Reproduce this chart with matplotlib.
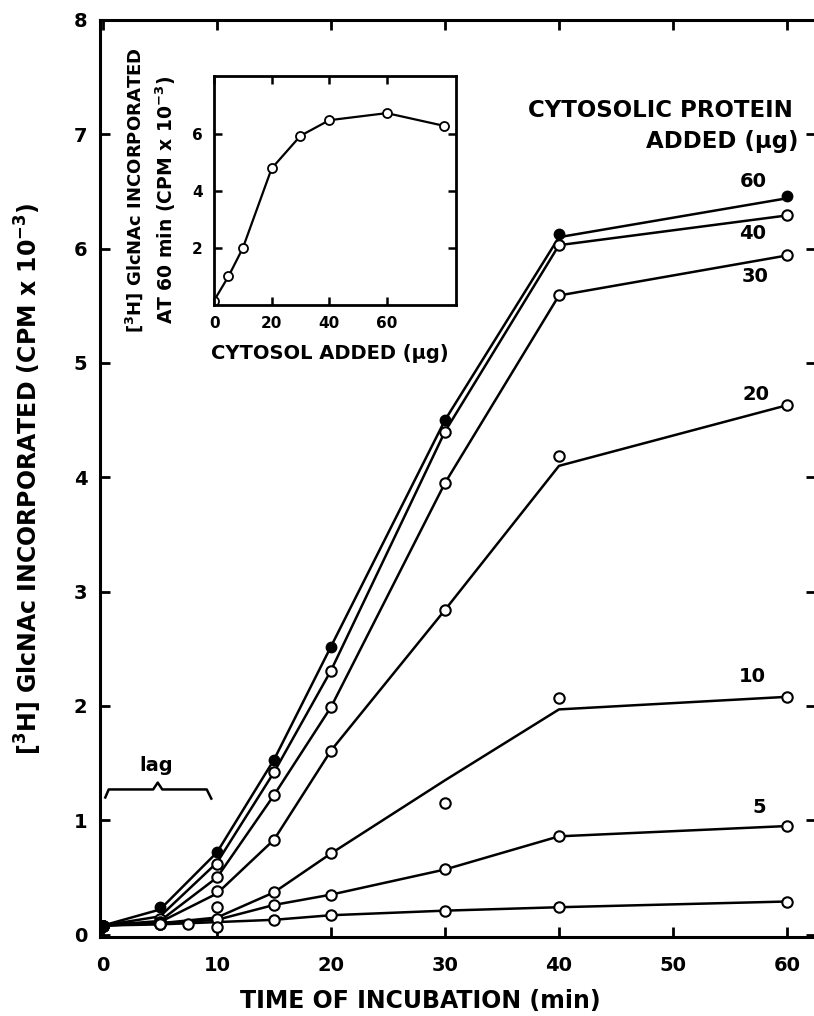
import matplotlib.pyplot as plt
import numpy as np

# ---------------- fonts / style ----------------
plt.rcParams['font.family'] = ['DejaVu Sans']
plt.rcParams['font.weight'] = 'bold'
plt.rcParams['axes.labelweight'] = 'bold'
plt.rcParams['mathtext.default'] = 'bf'

# ---------------- data ----------------
time_min = [0, 5, 10, 15, 20, 30, 40, 60]
time_0ug = [0, 5, 7.5, 10, 15, 20, 30, 40, 60]

# measured points, CPM x 10^-3
cpm_60ug = [0.08, 0.24, 0.72, 1.53, 2.52, 4.50, 6.13, 6.46]
cpm_40ug = [0.08, 0.14, 0.62, 1.42, 2.31, 4.40, 6.03, 6.29]
cpm_30ug = [0.08, 0.11, 0.50, 1.22, 1.99, 3.95, 5.59, 5.94]
cpm_20ug = [0.08, 0.10, 0.38, 0.83, 1.61, 2.84, 4.19, 4.63]
cpm_10ug = [0.08, 0.09, 0.24, 0.37, 0.71, 1.15, 2.07, 2.08]
cpm_5ug = [0.08, 0.09, 0.14, 0.26, 0.35, 0.57, 0.86, 0.95]
cpm_0ug = [0.08, 0.09, 0.09, 0.07, 0.13, 0.17, 0.21, 0.24, 0.29]

# hand drawn curves (value of the drawn line at each time)
line_60ug = [0.08, 0.22, 0.72, 1.53, 2.52, 4.50, 6.10, 6.44]
line_40ug = [0.08, 0.16, 0.63, 1.42, 2.31, 4.40, 6.03, 6.29]
line_30ug = [0.08, 0.12, 0.50, 1.22, 1.99, 3.95, 5.59, 5.94]
line_20ug = [0.08, 0.11, 0.36, 0.83, 1.61, 2.84, 4.10, 4.63]
line_10ug = [0.08, 0.10, 0.15, 0.37, 0.71, 1.35, 1.97, 2.08]
line_5ug = [0.08, 0.10, 0.13, 0.26, 0.35, 0.57, 0.86, 0.95]
line_0ug = [0.08, 0.09, 0.11, 0.13, 0.17, 0.21, 0.24, 0.29]

series_labels = ["60", "40", "30", "20", "10", "5"]

# inset: incorporation at 60 min vs cytosol added
inset_cytosol_ug = [0, 5, 10, 20, 30, 40, 60, 80]
inset_cpm = [0.15, 1.0, 2.0, 4.8, 5.95, 6.5, 6.75, 6.3]

# ---------------- figure ----------------
fig = plt.figure(figsize=(8.14, 10.16), dpi=100)
# right edge of the frame sits just outside the picture (cropped scan)
ax = fig.add_axes([0.1229, 0.0778, 0.8796, 0.9026])

open_kw = dict(marker="o", markersize=7.5, markerfacecolor="white",
               markeredgecolor="black", markeredgewidth=1.5, linestyle="none", zorder=4)

lines = [line_60ug, line_40ug, line_30ug, line_20ug, line_10ug, line_5ug]
points = [cpm_60ug, cpm_40ug, cpm_30ug, cpm_20ug, cpm_10ug, cpm_5ug]
for i, (ln, pt) in enumerate(zip(lines, points)):
    ax.plot(time_min, ln, color="black", linewidth=1.8, zorder=2)
    if i == 0:
        ax.plot(time_min, pt, marker="o", markersize=7.5, color="black",
                linestyle="none", zorder=5)
    else:
        ax.plot(time_min, pt, **open_kw)
ax.plot(time_min, line_0ug, color="black", linewidth=1.8, zorder=2)
ax.plot(time_0ug, cpm_0ug, **open_kw)

# series labels (μg of cytosolic protein)
label_xy = [(57.0, 6.59), (57.0, 6.13), (57.2, 5.76), (57.3, 4.72), (57.0, 2.26), (57.6, 1.11)]
for txt, (lx, ly) in zip(series_labels, label_xy):
    ax.text(lx, ly, txt, fontsize=14, ha="center", va="center")

ax.text(60.5, 7.21, "CYTOSOLIC PROTEIN", fontsize=16.5, ha="right", va="center")
ax.text(61.0, 6.94, "ADDED (μg)", fontsize=16.5, ha="right", va="center")

# lag bracket
bx = [0.2, 0.5, 4.4, 4.8, 5.2, 9.1, 9.5]
by = [1.20, 1.27, 1.27, 1.33, 1.27, 1.27, 1.19]
ax.plot(bx, by, color="black", linewidth=1.8)
ax.text(4.7, 1.48, "lag", fontsize=14, ha="center", va="center")

ax.set_xlim(-0.26, 62.55)
ax.set_ylim(-0.02, 8.0)
ax.set_xticks([0, 10, 20, 30, 40, 50, 60])
ax.set_yticks(range(0, 9))
ax.tick_params(direction="in", length=7, width=2, labelsize=14,
               top=True, right=True)
ax.tick_params(axis="x", pad=14)
ax.tick_params(axis="y", pad=9)
for s in ax.spines.values():
    s.set_linewidth(2.2)

ax.set_xlabel("TIME OF INCUBATION (min)", fontsize=17)
ax.xaxis.set_label_coords(0.447, -0.057)
ax.set_ylabel(r"[$^3$H] GlcNAc INCORPORATED (CPM x 10$^{-3}$)", fontsize=17)
ax.yaxis.set_label_coords(-0.078, 0.50)

# ---------------- inset ----------------
ins = fig.add_axes([0.263, 0.700, 0.297, 0.225])
ins.plot(inset_cytosol_ug, inset_cpm, color="black", linewidth=1.6,
         marker="o", markersize=6.5, markerfacecolor="white",
         markeredgecolor="black", markeredgewidth=1.3)
ins.set_xlim(0, 84)
ins.set_ylim(0, 8.05)
ins.set_xticks([0, 20, 40, 60])
ins.set_yticks([2, 4, 6])
ins.tick_params(direction="in", length=6, width=1.8, labelsize=11,
                top=True, right=True, pad=8)
for s in ins.spines.values():
    s.set_linewidth(2)
ins.set_xlabel("CYTOSOL ADDED (μg)", fontsize=14)
ins.xaxis.set_label_coords(0.48, -0.17)

fig.text(134 / 814, 1 - 190 / 1016, "[$^3$H] GlcNAc INCORPORATED", fontsize=13,
         rotation=90, ha="center", va="center")
fig.text(166 / 814, 1 - 200 / 1016, "AT 60 min (CPM x 10$^{-3}$)", fontsize=13.5,
         rotation=90, ha="center", va="center")

fig.savefig("out.png", dpi=100, facecolor="white")
